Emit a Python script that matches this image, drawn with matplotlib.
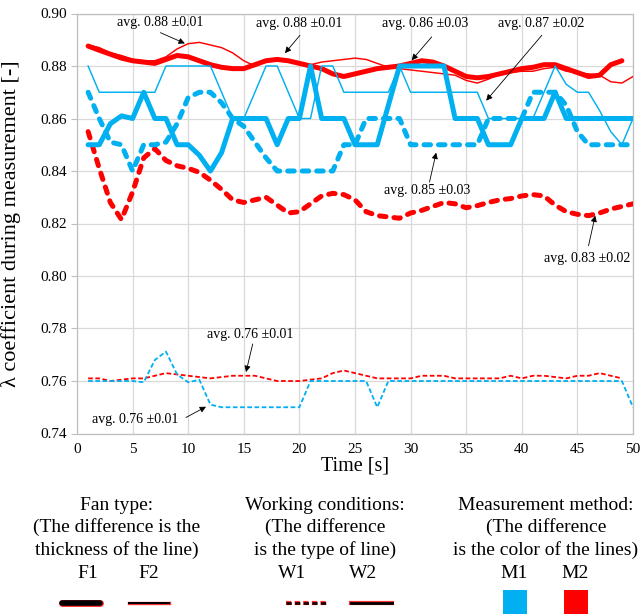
import matplotlib
matplotlib.use("Agg")
import matplotlib.pyplot as plt
import matplotlib.patheffects as pe
from matplotlib.lines import Line2D
from matplotlib.patches import Rectangle

plt.rcParams['font.family'] = ['Liberation Serif', 'DejaVu Serif']

# ---------------- data ----------------
time_s = list(range(1, 51))
time_s49 = list(range(1, 50))

# F2, W2, M1 : thin blue solid
f2_w2_m1 = [0.88, 0.87, 0.87, 0.87, 0.87, 0.87, 0.87, 0.88, 0.88, 0.88,
            0.88, 0.88, 0.87, 0.86, 0.86, 0.87, 0.88, 0.88, 0.87, 0.86,
            0.86, 0.88, 0.88, 0.87, 0.87, 0.87, 0.87, 0.87, 0.88, 0.87,
            0.87, 0.87, 0.87, 0.87, 0.87, 0.87, 0.86, 0.86, 0.86, 0.86,
            0.86, 0.87, 0.88, 0.873, 0.87, 0.87, 0.863, 0.855, 0.85, 0.86]
# F1, W2, M1 : thick blue solid
f1_w2_m1 = [0.85, 0.85, 0.858, 0.861, 0.86, 0.87, 0.86, 0.86, 0.85, 0.85,
            0.846, 0.84, 0.847, 0.86, 0.86, 0.86, 0.86, 0.85, 0.86, 0.86,
            0.88, 0.86, 0.86, 0.86, 0.85, 0.85, 0.85, 0.865, 0.88, 0.88,
            0.88, 0.88, 0.88, 0.86, 0.86, 0.86, 0.85, 0.85, 0.85, 0.86,
            0.86, 0.86, 0.87, 0.86, 0.86, 0.86, 0.86, 0.86, 0.86, 0.86]
# F1, W1, M1 : thick blue dashed
f1_w1_m1 = [0.87, 0.86, 0.851, 0.85, 0.84, 0.85, 0.85, 0.851, 0.858, 0.868,
            0.87, 0.87, 0.866, 0.86, 0.857, 0.851, 0.845, 0.84, 0.84, 0.84,
            0.84, 0.84, 0.84, 0.85, 0.85, 0.86, 0.86, 0.86, 0.86, 0.85,
            0.85, 0.85, 0.85, 0.85, 0.85, 0.85, 0.86, 0.86, 0.86, 0.86,
            0.87, 0.87, 0.87, 0.865, 0.855, 0.85, 0.85, 0.85, 0.85, 0.85]
# F1, W2, M2 : thick red solid (t = 1..49)
f1_w2_m2 = [0.8876, 0.886, 0.8845, 0.883, 0.882, 0.8815, 0.881, 0.8825, 0.884, 0.8835,
            0.882, 0.8805, 0.8795, 0.879, 0.879, 0.8805, 0.882, 0.8825, 0.882, 0.881,
            0.88, 0.879, 0.877, 0.876, 0.877, 0.878, 0.879, 0.8795, 0.88, 0.881,
            0.882, 0.8815, 0.88, 0.878, 0.876, 0.8755, 0.876, 0.877, 0.878, 0.879,
            0.8795, 0.8805, 0.8805, 0.879, 0.8775, 0.876, 0.8765, 0.8805, 0.882]
# F2, W2, M2 : thin red solid
f2_w2_m2 = [0.888, 0.887, 0.885, 0.884, 0.8825, 0.882, 0.882, 0.8835, 0.8865, 0.8885,
            0.889, 0.888, 0.887, 0.885, 0.882, 0.880, 0.882, 0.8825, 0.882, 0.881,
            0.8805, 0.8815, 0.882, 0.8825, 0.883, 0.8825, 0.881, 0.8795, 0.879, 0.8785,
            0.878, 0.8775, 0.877, 0.8765, 0.8745, 0.8735, 0.875, 0.877, 0.8775, 0.878,
            0.878, 0.879, 0.8795, 0.878, 0.8775, 0.877, 0.8765, 0.874, 0.8735, 0.876]
# F1, W1, M2 : thick red dashed
f1_w1_m2 = [0.855, 0.841, 0.828, 0.8215, 0.832, 0.845, 0.8485, 0.844, 0.842, 0.841,
            0.8395, 0.8365, 0.833, 0.829, 0.828, 0.829, 0.83, 0.827, 0.824, 0.8245,
            0.8275, 0.8305, 0.8315, 0.831, 0.829, 0.8245, 0.823, 0.8225, 0.822, 0.824,
            0.825, 0.8265, 0.828, 0.8275, 0.826, 0.8268, 0.828, 0.829, 0.8295, 0.8305,
            0.831, 0.8305, 0.827, 0.8245, 0.8235, 0.823, 0.824, 0.8255, 0.8265, 0.8275]
# F2, W1, M1 : thin blue dashed
f2_w1_m1 = [0.76, 0.76, 0.76, 0.76, 0.76, 0.7595, 0.768, 0.7712, 0.7625, 0.7595,
            0.7605, 0.751, 0.75, 0.75, 0.75, 0.75, 0.75, 0.75, 0.75, 0.75,
            0.76, 0.76, 0.76, 0.76, 0.76, 0.76, 0.75, 0.76, 0.76, 0.76,
            0.76, 0.76, 0.76, 0.76, 0.76, 0.76, 0.76, 0.76, 0.76, 0.76,
            0.76, 0.76, 0.76, 0.76, 0.76, 0.76, 0.76, 0.76, 0.76, 0.75]
# F2, W1, M2 : thin red dashed (t = 1..49)
f2_w1_m2 = [0.761, 0.761, 0.760, 0.7605, 0.761, 0.761, 0.762, 0.763, 0.7625, 0.762,
            0.7615, 0.761, 0.7615, 0.762, 0.762, 0.762, 0.761, 0.760, 0.760, 0.760,
            0.7605, 0.761, 0.763, 0.764, 0.763, 0.762, 0.761, 0.761, 0.761, 0.761,
            0.762, 0.762, 0.762, 0.761, 0.761, 0.761, 0.761, 0.761, 0.762, 0.761,
            0.762, 0.762, 0.7615, 0.761, 0.762, 0.762, 0.763, 0.762, 0.761]

x_ticks = [0, 5, 10, 15, 20, 25, 30, 35, 40, 45, 50]
y_ticks = [0.74, 0.76, 0.78, 0.80, 0.82, 0.84, 0.86, 0.88, 0.90]

# annotations: text, text position, arrow tail, arrow tip
ann_texts = ["avg. 0.88 \u00b10.01", "avg. 0.88 \u00b10.01", "avg. 0.86 \u00b10.03",
             "avg. 0.87 \u00b10.02", "avg. 0.85 \u00b10.03", "avg. 0.83 \u00b10.02",
             "avg. 0.76 \u00b10.01", "avg. 0.76 \u00b10.01"]
ann_text_pos = [(7.5, 0.8965), (20.0, 0.8962), (31.3, 0.8961), (41.7, 0.8961),
                (31.5, 0.8326), (45.9, 0.8067), (15.6, 0.7777), (5.25, 0.7454)]
ann_tail = [(7.5, 0.8927), (20.05, 0.8917), (31.9, 0.8911), (41.8, 0.8917),
            (31.7, 0.8358), (46.0, 0.8115), (15.8, 0.7741), (9.8, 0.7461)]
ann_tip = [(9.7, 0.8886), (18.7, 0.8849), (30.1, 0.8822), (36.8, 0.8668),
           (32.3, 0.8470), (46.6, 0.8230), (15.2, 0.7634), (11.6, 0.7502)]

# ---------------- style ----------------
BLUE = '#00B0F0'
RED = '#FF0000'
THICK = 3.6
THIN = 1.05

fig = plt.figure(figsize=(6.4, 6.14), dpi=100)
ax = fig.add_axes([77 / 640, 1 - 433.5 / 614, 556 / 640, 420 / 614])

dash_thick = (0, (1.3, 1.6))
dash_thin = (0, (2.6, 1.4))

ax.plot(time_s49, f2_w1_m2, color=RED, lw=1.3, linestyle=dash_thin, zorder=3)
ax.plot(time_s, f2_w1_m1, color=BLUE, lw=1.3, linestyle=dash_thin, zorder=3)
ax.plot(time_s, f1_w1_m2, color=RED, lw=THICK, linestyle=dash_thick,
        dash_capstyle='round', zorder=3)
ax.plot(time_s, f2_w2_m2, color=RED, lw=THIN, zorder=4, solid_joinstyle='round')
ax.plot(time_s49, f1_w2_m2, color=RED, lw=THICK, zorder=4, solid_joinstyle='round',
        solid_capstyle='round')
ax.plot(time_s, f2_w2_m1, color=BLUE, lw=THIN, zorder=5, solid_joinstyle='round')
ax.plot(time_s, f1_w1_m1, color=BLUE, lw=THICK, linestyle=dash_thick,
        dash_capstyle='round', zorder=5)
ax.plot(time_s, f1_w2_m1, color=BLUE, lw=THICK, zorder=6, solid_joinstyle='round',
        solid_capstyle='round')

ax.set_xlim(0, 50)
ax.set_ylim(0.74, 0.90)
ax.set_xticks(x_ticks)
ax.set_yticks(y_ticks)
ax.set_yticklabels([f"{v:.2f}" for v in y_ticks])
ax.grid(True, color='#d9d9d9', lw=0.9, zorder=0)
ax.set_axisbelow(True)
for s in ax.spines.values():
    s.set_color('#bfbfbf')
    s.set_linewidth(0.9)
ax.tick_params(axis='y', length=4, width=0.8, color='#bfbfbf', labelsize=11, pad=3)
ax.tick_params(axis='x', length=0, labelsize=11, pad=7)

ax.set_ylabel("\u03bb coefficient during measurement [-]", fontsize=16)
ax.yaxis.set_label_coords(-0.1, 0.5)
ax.set_xlabel("Time [s]", fontsize=14.5)
ax.xaxis.set_label_coords(0.5, -0.055)

for txt, tp, tl, tip in zip(ann_texts, ann_text_pos, ann_tail, ann_tip):
    ax.text(tp[0], tp[1], txt, fontsize=10, ha='center', va='center', zorder=8)
    ax.annotate('', xy=tip, xytext=tl,
                arrowprops=dict(arrowstyle='-|>', color='black', lw=0.6,
                                mutation_scale=9, shrinkA=0, shrinkB=0),
                zorder=8)

# ---------------- legend block ----------------
def fx(px):
    return px / 640

def fy(py):
    return 1 - py / 614

LEG_FS = 14
leg_text = [
    (117, 505, "Fan type:"), (117, 527, "(The difference is the"),
    (117, 550, "thickness of the line)"), (88, 573, "F1"), (149, 573, "F2"),
    (325, 505, "Working conditions:"), (325, 527, "(The difference"),
    (325, 550, "is the type of line)"), (292, 573, "W1"), (363, 573, "W2"),
    (546, 505, "Measurement method:"), (546, 527, "(The difference"),
    (546, 550, "is the color of the lines)"), (514, 573, "M1"), (575, 573, "M2"),
]
for px, py, s in leg_text:
    fig.text(fx(px), fy(py), s, fontsize=LEG_FS, ha='center', va='center')

def outline(w):
    return [pe.Stroke(linewidth=w + 1.0, foreground='#ff3030'), pe.Normal()]

fig.add_artist(Line2D([fx(62), fx(100)], [fy(603), fy(603)], color='black', lw=4.0,
                      solid_capstyle='round', transform=fig.transFigure,
                      path_effects=outline(4.0)))
fig.add_artist(Line2D([fx(129), fx(169)], [fy(603), fy(603)], color='black', lw=1.4,
                      transform=fig.transFigure, path_effects=outline(1.4)))
fig.add_artist(Line2D([fx(286), fx(327)], [fy(603), fy(603)], color='#200000', lw=2.0,
                      linestyle=(0, (1.9, 1.2)), transform=fig.transFigure,
                      path_effects=outline(2.0)))
fig.add_artist(Line2D([fx(351), fx(392)], [fy(603), fy(603)], color='black', lw=2.0,
                      transform=fig.transFigure, path_effects=outline(2.0)))
fig.add_artist(Rectangle((fx(503), 0), fx(24), (614 - 590) / 614,
                         facecolor=BLUE, edgecolor='none', transform=fig.transFigure))
fig.add_artist(Rectangle((fx(564), 0), fx(24), (614 - 590) / 614,
                         facecolor=RED, edgecolor='none', transform=fig.transFigure))

fig.savefig("out.png", dpi=100)
